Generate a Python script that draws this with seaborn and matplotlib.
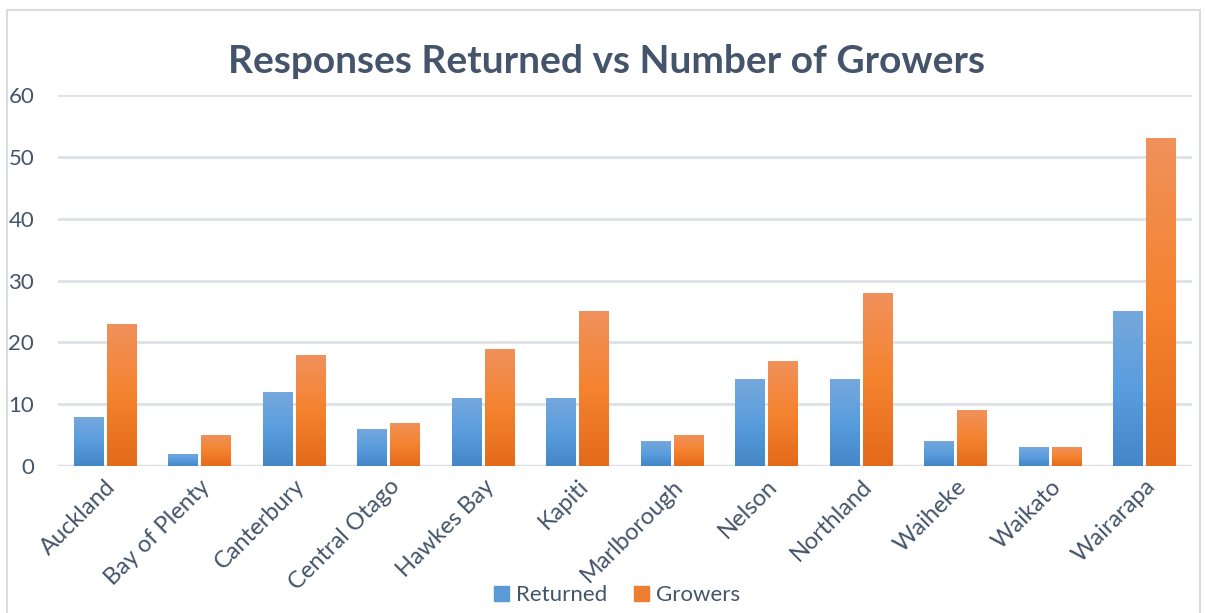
import numpy as np
import pandas as pd
import seaborn as sns
import matplotlib.pyplot as plt
from matplotlib.patches import Rectangle
from matplotlib.colors import LinearSegmentedColormap

# data
regions = ["Auckland", "Bay of Plenty", "Canterbury", "Central Otago", "Hawkes Bay", "Kapiti",
           "Marlborough", "Nelson", "Northland", "Waiheke", "Waikato", "Wairarapa"]
returned = [8, 2, 12, 6, 11, 11, 4, 14, 14, 4, 3, 25]
growers = [23, 5, 18, 7, 19, 25, 5, 17, 28, 9, 3, 53]

df = pd.DataFrame({"region": regions * 2,
                   "value": returned + growers,
                   "series": ["Returned"] * len(regions) + ["Growers"] * len(regions)})

sns.set_theme(style="white")
plt.rcParams["font.family"] = ["Lato", "DejaVu Sans"]
text_col = "#44546A"

fig = plt.figure(figsize=(12.05, 6.13), dpi=100)
ax = fig.add_axes([0.048, 0.2398, 0.941, 0.6052])

sns.barplot(data=df, x="region", y="value", hue="series",
            palette={"Returned": "#5B9BD5", "Growers": "#ED7D31"},
            width=0.7, gap=0.1, ax=ax, legend=False)

# gradient fill for the bars (top lighter, bottom darker)
grads = {
    "Returned": LinearSegmentedColormap.from_list("b", ["#4486C6", "#5A9DDE", "#76A8DC"]),
    "Growers": LinearSegmentedColormap.from_list("o", ["#E36A1A", "#F5832F", "#F0915C"]),
}
grad = np.linspace(0, 1, 256).reshape(-1, 1)
for container, name in zip(ax.containers, ["Returned", "Growers"]):
    for bar in container:
        x0, y0 = bar.get_x(), bar.get_y()
        w, h = bar.get_width(), bar.get_height()
        bar.set_facecolor("none")
        bar.set_edgecolor("none")
        im = ax.imshow(grad, cmap=grads[name], origin="lower", aspect="auto",
                       extent=[x0, x0 + w, y0, y0 + h], zorder=2)
        im.set_clip_path(bar)

ax.set_xlim(-0.5, len(regions) - 0.5)
ax.set_ylim(0, 60)
ax.set_yticks(range(0, 61, 10))
ax.yaxis.grid(True, color="#DDE1E6", linewidth=2)
ax.set_axisbelow(True)
for s in ax.spines.values():
    s.set_visible(False)
ax.axhline(0, color="#DDE1E6", linewidth=2.5, zorder=1)

ax.set_xlabel("")
ax.set_ylabel("")
ax.tick_params(axis="y", labelsize=16, labelcolor=text_col, pad=17, length=0)
ax.tick_params(axis="x", labelsize=17, labelcolor=text_col, length=0, pad=7)
plt.setp(ax.get_xticklabels(), rotation=45, ha="right", rotation_mode="anchor")

fig.text(0.503, 0.9, "Responses Returned vs Number of Growers", ha="center", va="center",
         fontsize=28, fontweight="bold", color=text_col)

handles = [Rectangle((0, 0), 1, 1, color="#5B9BD5"), Rectangle((0, 0), 1, 1, color="#ED7D31")]
fig.legend(handles, ["Returned", "Growers"], loc="center", bbox_to_anchor=(0.512, 0.029),
           ncol=2, frameon=False, fontsize=16, labelcolor=text_col,
           handlelength=0.7, handleheight=0.7, handletextpad=0.3, columnspacing=1.2)

# outer chart border
fig.patches.append(Rectangle((0.006, -0.01), 0.99, 0.994, transform=fig.transFigure,
                             fill=False, edgecolor="#D9DDE3", linewidth=1.5))

fig.savefig("out.png", dpi=100)
